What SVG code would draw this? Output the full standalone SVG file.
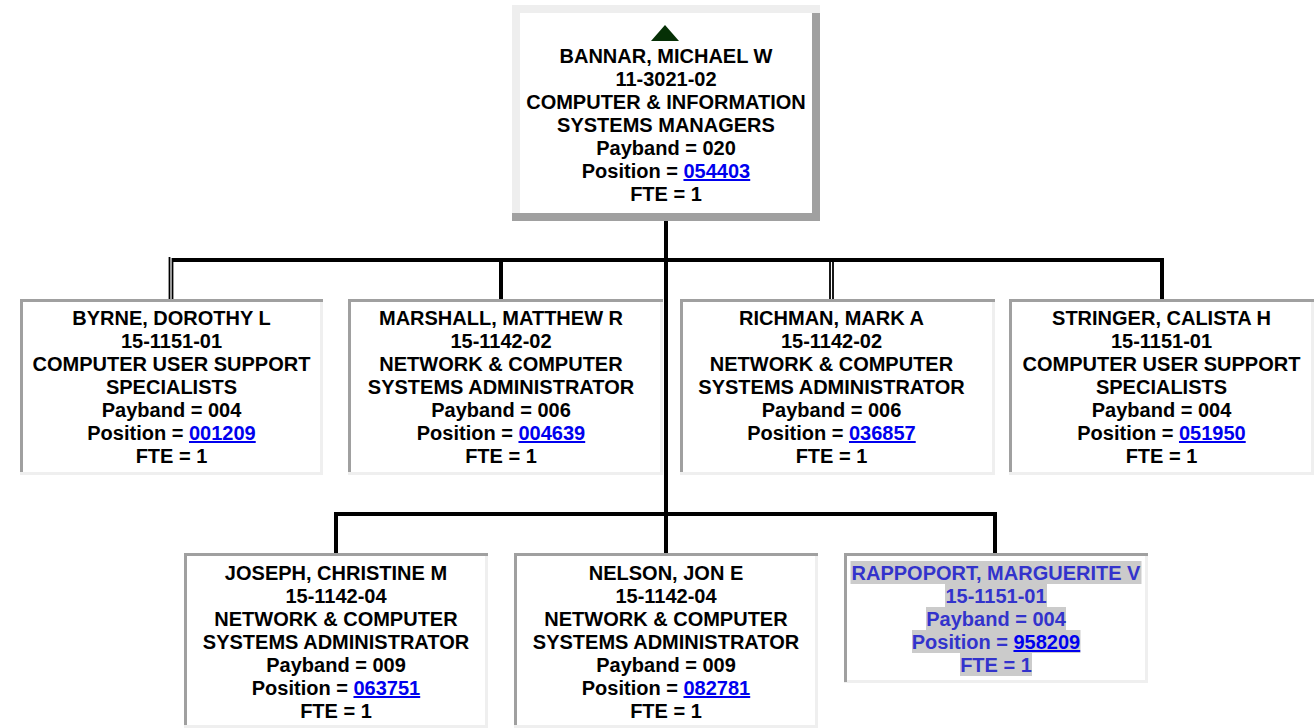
<svg xmlns="http://www.w3.org/2000/svg" width="1314" height="728" viewBox="0 0 1314 728">
<style>
text{font-family:"Liberation Sans",Arial,Helvetica,sans-serif;font-weight:bold;font-size:20px;text-anchor:middle;fill:#000}
.lnk{fill:#0000ee;text-decoration:underline}
.sel{fill:#3333cc}
.hl{fill:#cbcbcb}
.lt{fill:#efefef}
.dk{fill:#a0a0a0}
.wh{fill:#ffffff}
.ln{stroke:#000;stroke-width:4;fill:none}
.dl{stroke:#000;stroke-width:1.8;fill:none}
</style>
<rect width="1314" height="728" fill="#ffffff"/>
<g id="connectors">
<line class="ln" x1="666" y1="221" x2="666" y2="553"/>
<line class="ln" x1="172" y1="260" x2="1164" y2="260"/>
<line class="dl" x1="169.5" y1="257" x2="169.5" y2="299"/>
<line class="dl" x1="172.5" y1="258" x2="172.5" y2="299"/>
<line class="ln" x1="501" y1="260" x2="501" y2="299"/>
<line class="dl" x1="830" y1="262" x2="830" y2="299"/>
<line class="dl" x1="833" y1="262" x2="833" y2="299"/>
<line class="ln" x1="1162" y1="258" x2="1162" y2="299"/>
<line class="ln" x1="334" y1="514" x2="997" y2="514"/>
<line class="ln" x1="336" y1="512" x2="336" y2="553"/>
<line class="ln" x1="995" y1="512" x2="995" y2="553"/>
</g>
<g id="node-bannar">
<rect class="dk" x="512" y="5" width="308" height="216"/>
<rect x="512" y="5" width="308" height="8" fill="#eeeeee"/>
<rect x="512" y="5" width="8" height="208" fill="#eeeeee"/>
<rect class="wh" x="520" y="13" width="292" height="200"/>
<polygon points="665,25 679,41 651,41" fill="#063006"/>
<text x="666" y="63">BANNAR, MICHAEL W</text>
<text x="666" y="86">11-3021-02</text>
<text x="666" y="109">COMPUTER &amp; INFORMATION</text>
<text x="666" y="132">SYSTEMS MANAGERS</text>
<text x="666" y="155">Payband = 020</text>
<text x="666" y="178">Position = <tspan class="lnk">054403</tspan></text>
<text x="666" y="201">FTE = 1</text>
</g>
<g id="node-byrne">
<rect class="lt" x="20" y="299" width="303" height="176"/>
<rect class="dk" x="20" y="299" width="303" height="3"/>
<rect class="dk" x="20" y="299" width="3" height="173"/>
<rect class="wh" x="23" y="302" width="297" height="170"/>
<text x="171.5" y="325">BYRNE, DOROTHY L</text>
<text x="171.5" y="348">15-1151-01</text>
<text x="171.5" y="371">COMPUTER USER SUPPORT</text>
<text x="171.5" y="394">SPECIALISTS</text>
<text x="171.5" y="417">Payband = 004</text>
<text x="171.5" y="440">Position = <tspan class="lnk">001209</tspan></text>
<text x="171.5" y="463">FTE = 1</text>
</g>
<g id="node-marshall">
<rect class="lt" x="348" y="299" width="315" height="176"/>
<rect class="dk" x="348" y="299" width="315" height="3"/>
<rect class="dk" x="348" y="299" width="3" height="173"/>
<rect class="wh" x="351" y="302" width="309" height="170"/>
<text x="501" y="325">MARSHALL, MATTHEW R</text>
<text x="501" y="348">15-1142-02</text>
<text x="501" y="371">NETWORK &amp; COMPUTER</text>
<text x="501" y="394">SYSTEMS ADMINISTRATOR</text>
<text x="501" y="417">Payband = 006</text>
<text x="501" y="440">Position = <tspan class="lnk">004639</tspan></text>
<text x="501" y="463">FTE = 1</text>
</g>
<g id="node-richman">
<rect class="lt" x="680" y="299" width="315" height="176"/>
<rect class="dk" x="680" y="299" width="315" height="3"/>
<rect class="dk" x="680" y="299" width="3" height="173"/>
<rect class="wh" x="683" y="302" width="309" height="170"/>
<text x="831.5" y="325">RICHMAN, MARK A</text>
<text x="831.5" y="348">15-1142-02</text>
<text x="831.5" y="371">NETWORK &amp; COMPUTER</text>
<text x="831.5" y="394">SYSTEMS ADMINISTRATOR</text>
<text x="831.5" y="417">Payband = 006</text>
<text x="831.5" y="440">Position = <tspan class="lnk">036857</tspan></text>
<text x="831.5" y="463">FTE = 1</text>
</g>
<g id="node-stringer">
<rect class="lt" x="1009" y="299" width="305" height="176"/>
<rect class="dk" x="1009" y="299" width="305" height="3"/>
<rect class="dk" x="1009" y="299" width="3" height="173"/>
<rect class="wh" x="1012" y="302" width="299" height="170"/>
<text x="1161.5" y="325">STRINGER, CALISTA H</text>
<text x="1161.5" y="348">15-1151-01</text>
<text x="1161.5" y="371">COMPUTER USER SUPPORT</text>
<text x="1161.5" y="394">SPECIALISTS</text>
<text x="1161.5" y="417">Payband = 004</text>
<text x="1161.5" y="440">Position = <tspan class="lnk">051950</tspan></text>
<text x="1161.5" y="463">FTE = 1</text>
</g>
<g id="node-joseph">
<rect class="lt" x="184" y="553" width="304" height="175"/>
<rect class="dk" x="184" y="553" width="304" height="3"/>
<rect class="dk" x="184" y="553" width="3" height="172"/>
<rect class="wh" x="187" y="556" width="298" height="169"/>
<text x="336" y="580">JOSEPH, CHRISTINE M</text>
<text x="336" y="603">15-1142-04</text>
<text x="336" y="626">NETWORK &amp; COMPUTER</text>
<text x="336" y="649">SYSTEMS ADMINISTRATOR</text>
<text x="336" y="672">Payband = 009</text>
<text x="336" y="695">Position = <tspan class="lnk">063751</tspan></text>
<text x="336" y="718">FTE = 1</text>
</g>
<g id="node-nelson">
<rect class="lt" x="514" y="553" width="304" height="175"/>
<rect class="dk" x="514" y="553" width="304" height="3"/>
<rect class="dk" x="514" y="553" width="3" height="172"/>
<rect class="wh" x="517" y="556" width="298" height="169"/>
<text x="666" y="580">NELSON, JON E</text>
<text x="666" y="603">15-1142-04</text>
<text x="666" y="626">NETWORK &amp; COMPUTER</text>
<text x="666" y="649">SYSTEMS ADMINISTRATOR</text>
<text x="666" y="672">Payband = 009</text>
<text x="666" y="695">Position = <tspan class="lnk">082781</tspan></text>
<text x="666" y="718">FTE = 1</text>
</g>
<g id="node-rappoport">
<rect class="lt" x="844" y="553" width="304" height="130"/>
<rect class="dk" x="844" y="553" width="304" height="3"/>
<rect class="dk" x="844" y="553" width="3" height="129"/>
<rect class="wh" x="847" y="556" width="298" height="124"/>
<rect class="hl" x="850.5" y="561" width="291" height="23"/>
<rect class="hl" x="945" y="584" width="102" height="23"/>
<rect class="hl" x="926" y="607" width="140" height="23"/>
<rect class="hl" x="912" y="630" width="168.5" height="23"/>
<rect class="hl" x="960" y="653" width="72" height="23"/>
<text class="sel" x="996" y="580">RAPPOPORT, MARGUERITE V</text>
<text class="sel" x="996" y="603">15-1151-01</text>
<text class="sel" x="996" y="626">Payband = 004</text>
<text class="sel" x="996" y="649">Position = <tspan class="lnk">958209</tspan></text>
<text class="sel" x="996" y="672">FTE = 1</text>
</g>
</svg>
